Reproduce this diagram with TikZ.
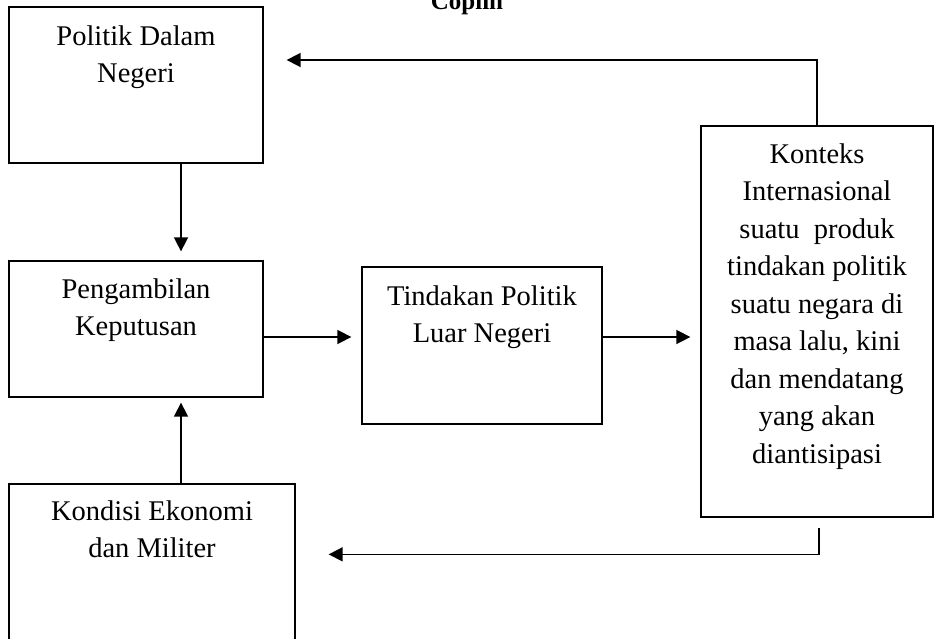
\documentclass[tikz,border=0pt]{standalone}
\usepackage{fontspec}
\setmainfont{Liberation Serif}
\usetikzlibrary{arrows.meta,calc}

\newcommand{\isikotak}[4]{\parbox[c][#2][t]{#1}{\centering\vspace*{#3}\strut #4}}

\begin{document}
\begin{tikzpicture}[x=1pt,y=-1pt,
    every node/.style={font=\fontsize{28.5}{37.5}\selectfont},
    kotak/.style={draw, line width=1.3pt, inner sep=0pt},
    panah/.style={line width=1.6pt, -{Triangle[length=14pt,width=14pt]}}]
    \clip (0,0) rectangle (938,638);

    % Title
    \node[font=\fontsize{25}{37}\selectfont\bfseries, anchor=base] (judul) at (467,9) {Coplin};

    % Left column
    \node[kotak] (pdn) at (136,85) {\isikotak{254pt}{156pt}{11.75pt}{Politik Dalam\\Negeri}};
    \node[kotak] (pk) at (136,329) {\isikotak{254pt}{136pt}{10.75pt}{Pengambilan\\Keputusan}};
    \node[kotak] (kem) at (152,567) {\isikotak{286pt}{166pt}{9.75pt}{Kondisi Ekonomi\\dan Militer}};

    % Middle and right
    \node[kotak] (tpl) at (482,345.5) {\isikotak{240pt}{157pt}{11.75pt}{Tindakan Politik\\Luar Negeri}};
    \node[kotak] (kin) at (817,321.5) {\isikotak{232pt}{391pt}{10.75pt}{Konteks\\Internasional\\suatu\ \ produk\\tindakan politik\\suatu negara di\\masa lalu, kini\\dan mendatang\\yang akan\\diantisipasi}};

    % Arrows
    \draw[panah] ([xshift=45pt]pdn.south) -- ([xshift=45pt,yshift=9pt]pk.north);
    \draw[panah] ([xshift=45pt]pk.south |- kem.north) -- ([xshift=45pt,yshift=-5pt]pk.south);
    \draw[panah] ($(pk.east)+(0,8)$) -- ($(pk.east -| tpl.west)+(-10,8)$);
    \draw[panah] ($(tpl.east)+(0,-8.5)$) -- ($(tpl.east -| kin.west)+(-10,-8.5)$);

    % Feedback
    \draw[panah] (kin.north) |- ($(pdn.east)+(23,-25)$);
    \draw[panah] ($(kin.south)+(2,10)$) |- ($(kem.north east)+(33,71)$);
\end{tikzpicture}
\end{document}
